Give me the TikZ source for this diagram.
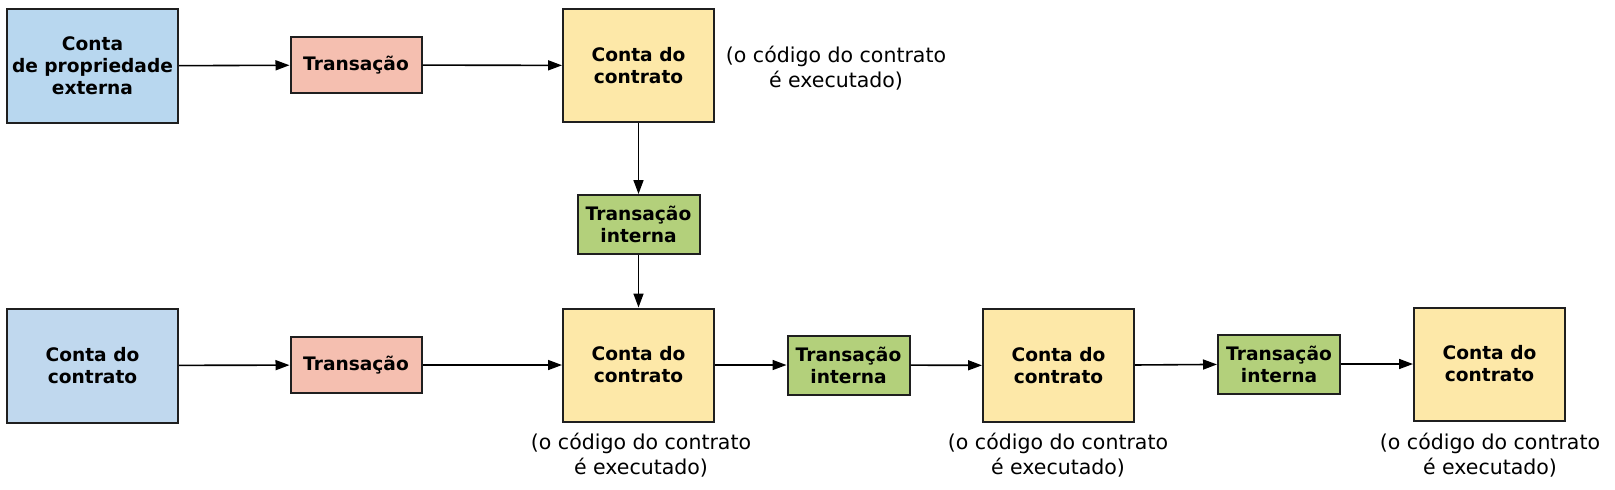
\documentclass[tikz,border=0pt]{standalone}
\usepackage{fontspec}
\setmainfont{DejaVu Sans}
\usetikzlibrary{arrows.meta}

\definecolor{extblue}{HTML}{B8D7EF}
\definecolor{conblue}{HTML}{C0D8EE}
\definecolor{txpink}{HTML}{F5BFB0}
\definecolor{conyellow}{HTML}{FDE8A8}
\definecolor{intgreen}{HTML}{B3D07B}

\begin{document}
\begin{tikzpicture}[x=0.5pt, y=-0.5pt, >={Triangle[length=7pt,width=5pt]},
  box/.style={draw=black!88, line width=1pt, align=center, inner sep=2pt,
    font=\bfseries\fontsize{9.3}{11}\selectfont},
  extacc/.style={box, fill=extblue, minimum width=85.5pt, minimum height=57pt},
  conacc/.style={box, fill=conyellow, minimum width=75.5pt, minimum height=56.5pt},
  tx/.style={box, fill=txpink, minimum width=65.5pt, minimum height=28pt},
  inttx/.style={box, fill=intgreen, minimum width=61pt, minimum height=29.5pt},
  note/.style={align=center, font=\fontsize{10.25}{12.5}\selectfont},
  link/.style={->, line width=0.8pt}]
\useasboundingbox (0,0) rectangle (1615,489);

% top row
\node[extacc] (ext) at (92.5,66) {Conta\\de propriedade\\externa};
\node[tx] (tx1) at (356,65) {Transação};
\node[conacc] (c1) at (638.5,65.5) {Conta do\\contrato};
\node[note] (n1) at (836,68) {(o código do contrato\\é executado)};

% internal call down
\node[inttx] (it1) at (638.5,224.5) {Transação\\interna};

% bottom row
\node[extacc, fill=conblue] (cacc) at (92.5,365.5) {Conta do\\contrato};
\node[tx] (tx2) at (356,365) {Transação};
\node[conacc] (c2) at (638.5,365) {Conta do\\contrato};
\node[inttx] (it2) at (848.5,365) {Transação\\interna};
\node[conacc] (c3) at (1058.5,365.5) {Conta do\\contrato};
\node[inttx] (it3) at (1279,364) {Transação\\interna};
\node[conacc] (c4) at (1489.5,364) {Conta do\\contrato};

\node[note] (n2) at (641,455) {(o código do contrato\\é executado)};
\node[note] (n3) at (1058,455) {(o código do contrato\\é executado)};
\node[note] (n4) at (1490,455) {(o código do contrato\\é executado)};

\draw[link] (ext) -- (tx1);
\draw[link] (tx1) -- (c1);
\draw[link] (c1) -- (it1);
\draw[link] (it1) -- (c2);
\draw[link] (cacc) -- (tx2);
\draw[link] (tx2) -- (c2);
\draw[link] (c2) -- (it2);
\draw[link] (it2) -- (c3);
\draw[link] (c3) -- (it3);
\draw[link] (it3) -- (c4);
\end{tikzpicture}
\end{document}
